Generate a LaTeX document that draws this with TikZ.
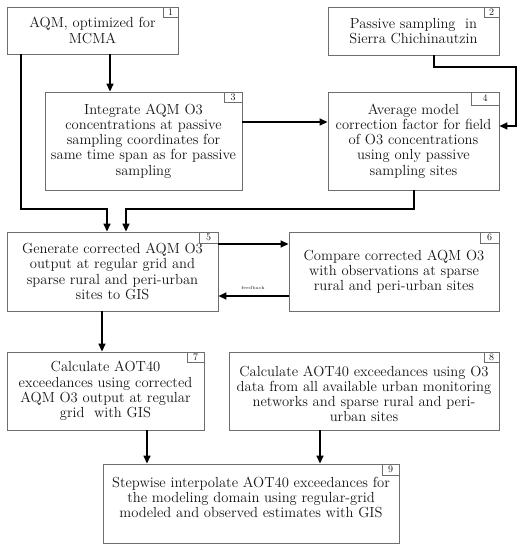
\documentclass[tikz,border=0pt]{standalone}
\usepackage{fontspec}
\usetikzlibrary{arrows.meta,calc}
\definecolor{boxgray}{HTML}{6E6E6E}
\definecolor{txt}{HTML}{151515}
\tikzset{
  procbox/.style={draw=boxgray,line width=0.9pt,rectangle,inner sep=0pt,align=center,text=txt,
    font=\fontsize{14.6}{15.2}\selectfont},
  plaintext/.style={inner sep=0pt,align=center,text=txt,font=\fontsize{14.6}{15.2}\selectfont},
  tagbox/.style={draw=boxgray,line width=0.8pt,rectangle,inner sep=0pt,anchor=north east,
    minimum width=15pt,minimum height=10pt,text=txt,font=\fontsize{10}{10}\selectfont},
  arr/.style={draw=black,line width=1.5pt,-{Triangle[length=8pt,width=7pt]}},
  fbl/.style={font=\fontsize{4.5}{5}\selectfont,text=txt,inner sep=0pt}
}
\begin{document}
\begin{tikzpicture}[x=1pt,y=-1pt]
\useasboundingbox[fill=white] (0,0) rectangle (521,550);
% boxes
\node[procbox,minimum width=171pt,minimum height=47pt] (b1) at (92.5,30.5) {AQM, optimized for\\MCMA};
\node[procbox,minimum width=171pt,minimum height=48pt] (b2) at (413.5,31) {Passive sampling\ \ in\\Sierra Chichinautzin};
\node[procbox,minimum width=197pt,minimum height=98pt] (b3) at (143.5,141) {Integrate AQM O3\\concentrations at passive\\sampling coordinates for\\same time span as for passive\\sampling};
\node[procbox,minimum width=171pt,minimum height=98pt] (b4) at (413.5,141) {Average model\\correction factor for field\\of O3 concentrations\\using only passive\\sampling sites};
\node[procbox,minimum width=211pt,minimum height=79pt] (b5) at (112.5,271.5) {Generate corrected AQM O3\\output at regular grid and\\sparse rural and peri-urban\\sites to GIS};
\node[procbox,minimum width=210pt,minimum height=79pt] (b6) at (394,271.5) {Compare corrected AQM O3\\with observations at sparse\\rural and peri-urban sites};
\node[procbox,minimum width=197pt,minimum height=78pt] (b7) at (105.5,391) {Calculate AOT40\\exceedances using corrected\\AQM O3 output at regular\\grid\ \ with GIS};
\node[procbox,minimum width=270pt,minimum height=78pt] (b8) at (364,391) {};
\node[plaintext] (b8t) at (364,394) {Calculate AOT40 exceedances using O3\\data from all available urban monitoring\\networks and sparse rural and peri-\\urban sites};
\node[procbox,minimum width=296pt,minimum height=79pt] (b9) at (251,503.5) {};
\node[plaintext] (b9t) at (251,497.5) {Stepwise interpolate AOT40 exceedances for\\the modeling domain using regular-grid\\modeled and observed estimates with GIS};
% tags
\node[tagbox] (t1) at (b1.north east) {1};
\node[tagbox] (t2) at (b2.north east) {2};
\node[tagbox,minimum width=18pt] (t3) at (b3.north east) {3};
\node[tagbox,minimum width=28pt,minimum height=13pt] (t4) at (b4.north east) {4};
\node[tagbox,minimum width=19pt,minimum height=11pt] (t5) at (b5.north east) {5};
\node[tagbox,minimum width=19pt,minimum height=11pt] (t6) at (b6.north east) {6};
\node[tagbox,minimum width=17pt] (t7) at (b7.north east) {7};
\node[tagbox] (t8) at (b8.north east) {8};
\node[tagbox,minimum width=17pt,minimum height=11pt] (t9) at (b9.north east) {9};
% junctions
\coordinate (j1) at (107,209);
\coordinate (j2) at (126,209);
\coordinate (j3) at (516,67);
% connectors
\draw[arr] ([xshift=17.5pt]b1.south) -- ([xshift=17.5pt]b1.south |- b3.north);
\draw[arr] ([xshift=-71.5pt]b1.south) |- (j1) -- (j1 |- b5.north);
\draw[arr] ([xshift=0.5pt]b4.south) |- (j2) -- (j2 |- b5.north);
\draw[arr] ([xshift=20.5pt]b2.south) |- (j3) |- ([yshift=15pt]b4.east);
\draw[arr] ([yshift=19pt]b3.east) -- ([yshift=19pt]b3.east -| b4.west);
\draw[arr] ([yshift=27.5pt]b5.east) -- ([yshift=27.5pt]b5.east -| b6.west);
\draw[arr] ([yshift=-24.5pt]b6.west) -- ([yshift=-24.5pt]b6.west -| b5.east);
\node[fbl] (fb) at (253,288) {feedback};
\draw[arr] ([xshift=-10.5pt]b5.south) -- ([xshift=-10.5pt]b5.south |- b7.north);
\draw[arr] ([xshift=41.5pt]b7.south) -- ([xshift=41.5pt]b7.south |- b9.north);
\draw[arr] ([xshift=-44pt]b8.south) -- ([xshift=-44pt]b8.south |- b9.north);
\end{tikzpicture}
\end{document}
